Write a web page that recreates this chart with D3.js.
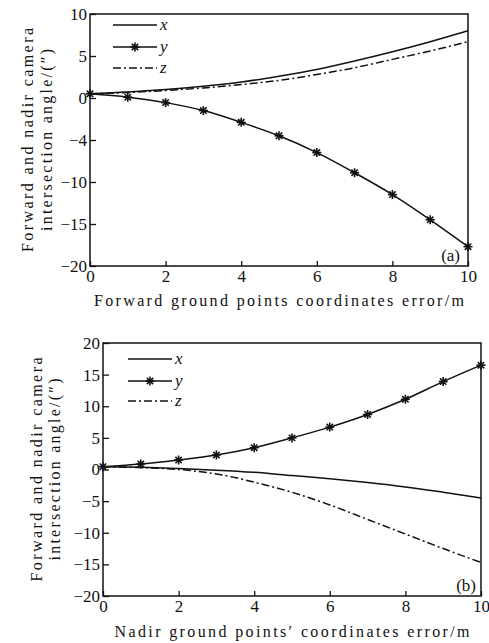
<!DOCTYPE html>
<html>
<head>
<meta charset="utf-8">
<script src="https://cdn.jsdelivr.net/npm/d3@7"></script>
<style>
  body { margin: 0; background: #fff; }
  svg { display: block; }
  text { font-family: "Liberation Serif", "Times New Roman", Times, "DejaVu Serif", serif; fill: #111; }
</style>
</head>
<body>
<div class="chart"></div>
<script>
// error values along the x axis (m)
let errors = [0, 1, 2, 3, 4, 5, 6, 7, 8, 9, 10];

// panel (a): forward ground points
let aX = [0.5, 0.7, 1.0, 1.4, 1.9, 2.6, 3.4, 4.4, 5.5, 6.7, 8.0];
let aY = [0.5, 0.1, -0.55, -1.5, -2.9, -4.5, -6.5, -8.9, -11.5, -14.5, -17.7];
let aZ = [0.5, 0.65, 0.9, 1.2, 1.6, 2.1, 2.8, 3.6, 4.6, 5.6, 6.7];

// panel (b): nadir ground points
let bX = [0.45, 0.35, 0.15, -0.1, -0.45, -0.95, -1.45, -2.05, -2.75, -3.6, -4.5];
let bY = [0.45, 0.87, 1.5, 2.3, 3.45, 5.0, 6.7, 8.7, 11.1, 13.9, 16.5];
let bZ = [0.45, 0.3, 0.0, -0.7, -2.0, -3.6, -5.6, -7.9, -10.2, -12.5, -14.7];

let xTicks = [0, 2, 4, 6, 8, 10];
let aTicks = [-20, -15, -10, -5, 0, 5, 10];
let aTickLabels = ['\u221220', '\u221215', '\u221210', '\u22124', '0', '5', '10'];
let bTicks = [-20, -15, -10, -5, 0, 5, 10, 15, 20];
let bTickLabels = ['\u221220', '\u221215', '\u221210', '\u22125', '0', '5', '10', '15', '20'];

let seriesNames = ['x', 'y', 'z'];

let serif = '"Liberation Serif", "Times New Roman", Times, "DejaVu Serif", serif';

let svg = d3.select('.chart')
  .append('svg')
  .attr('width', 489)
  .attr('height', 643)
  .style('font-family', serif);

function drawPanel(p) {
  let x = d3.scaleLinear().domain([0, 10]).range([p.left, p.right]);
  let y = d3.scaleLinear().domain([p.ticks[0], p.ticks[p.ticks.length - 1]]).range([p.bottom, p.top]);
  let g = svg.append('g');

  let xAxis = g.append('g')
    .attr('transform', `translate(0,${p.bottom})`)
    .call(d3.axisBottom(x).tickValues(xTicks).tickSizeInner(-5).tickSizeOuter(0).tickPadding(4));
  let yAxis = g.append('g')
    .attr('transform', `translate(${p.left},0)`)
    .call(d3.axisLeft(y).tickValues(p.ticks)
      .tickFormat((d, i) => p.labels[i])
      .tickSizeInner(-6).tickSizeOuter(0).tickPadding(3));
  [xAxis, yAxis].forEach(a => {
    a.attr('font-family', null).attr('font-size', null);
    a.select('.domain').remove();
    a.selectAll('line').attr('stroke', '#111').attr('stroke-width', 1.3);
    a.selectAll('text')
      .style('font-family', serif)
      .style('font-size', '17px')
      .attr('fill', '#111');
  });

  g.append('rect')
    .attr('x', p.left).attr('y', p.top)
    .attr('width', p.right - p.left).attr('height', p.bottom - p.top)
    .attr('fill', 'none').attr('stroke', '#111').attr('stroke-width', 1.5);

  let line = d3.line()
    .x((d, i) => x(errors[i]))
    .y(d => y(d))
    .curve(d3.curveMonotoneX);

  let dashes = [null, null, '8,3,2,3'];
  p.series.forEach((s, k) => {
    g.append('path')
      .attr('d', line(s))
      .attr('fill', 'none')
      .attr('stroke', '#111')
      .attr('stroke-width', 1.5)
      .attr('stroke-dasharray', dashes[k]);
  });

  // asterisk markers on y
  function star(sel, cx, cy) {
    let r = 4.5;
    [0, 45, 90, 135].forEach(a => {
      let dx = r * Math.cos(a * Math.PI / 180), dy = r * Math.sin(a * Math.PI / 180);
      sel.append('line')
        .attr('x1', cx - dx).attr('y1', cy - dy)
        .attr('x2', cx + dx).attr('y2', cy + dy)
        .attr('stroke', '#111').attr('stroke-width', 1.6);
    });
  }
  p.series[1].forEach((d, i) => star(g, x(errors[i]), y(d)));

  // legend
  seriesNames.forEach((n, k) => {
    let ly = p.legendY[k];
    g.append('line')
      .attr('x1', p.legendX).attr('x2', p.legendX + 44)
      .attr('y1', ly).attr('y2', ly)
      .attr('stroke', '#111').attr('stroke-width', 1.5)
      .attr('stroke-dasharray', dashes[k]);
    if (k === 1) star(g, p.legendX + 22, ly);
    g.append('text')
      .attr('x', p.legendX + 47).attr('y', ly + 5)
      .style('font-size', '17px').style('font-style', 'italic')
      .text(n);
  });

  g.append('text')
    .attr('x', p.tagX).attr('y', p.bottom - 5)
    .attr('text-anchor', 'end')
    .style('font-size', '17px')
    .text(p.tag);

  g.append('text')
    .attr('x', (p.left + p.right) / 2).attr('y', p.titleY)
    .attr('text-anchor', 'middle')
    .attr('textLength', p.titleLen).attr('lengthAdjust', 'spacing')
    .style('font-size', '16px')
    .text(p.title);

  let cy = (p.top + p.bottom) / 2;
  g.append('text')
    .attr('transform', `translate(${p.yLab[0]},${cy}) rotate(-90)`)
    .attr('text-anchor', 'middle')
    .attr('textLength', 224).attr('lengthAdjust', 'spacing')
    .style('font-size', '16px')
    .text('Forward and nadir camera');
  g.append('text')
    .attr('transform', `translate(${p.yLab[1]},${cy}) rotate(-90)`)
    .attr('text-anchor', 'middle')
    .attr('textLength', 182).attr('lengthAdjust', 'spacing')
    .style('font-size', '16px')
    .text('intersection angle/(\u2033)');
}

drawPanel({
  left: 90, right: 468, top: 14, bottom: 266,
  ticks: aTicks, labels: aTickLabels,
  series: [aX, aY, aZ],
  legendX: 113, legendY: [25, 47, 68],
  tag: '(a)', tagX: 460,
  title: 'Forward ground points coordinates error/m', titleY: 306, titleLen: 370,
  yLab: [33, 52]
});

drawPanel({
  left: 103, right: 481, top: 343, bottom: 596,
  ticks: bTicks, labels: bTickLabels,
  series: [bX, bY, bZ],
  legendX: 128, legendY: [359, 381, 401],
  tag: '(b)', tagX: 476,
  title: 'Nadir ground points\u2032 coordinates error/m', titleY: 637, titleLen: 355,
  yLab: [42, 60]
});
</script>
</body>
</html>
